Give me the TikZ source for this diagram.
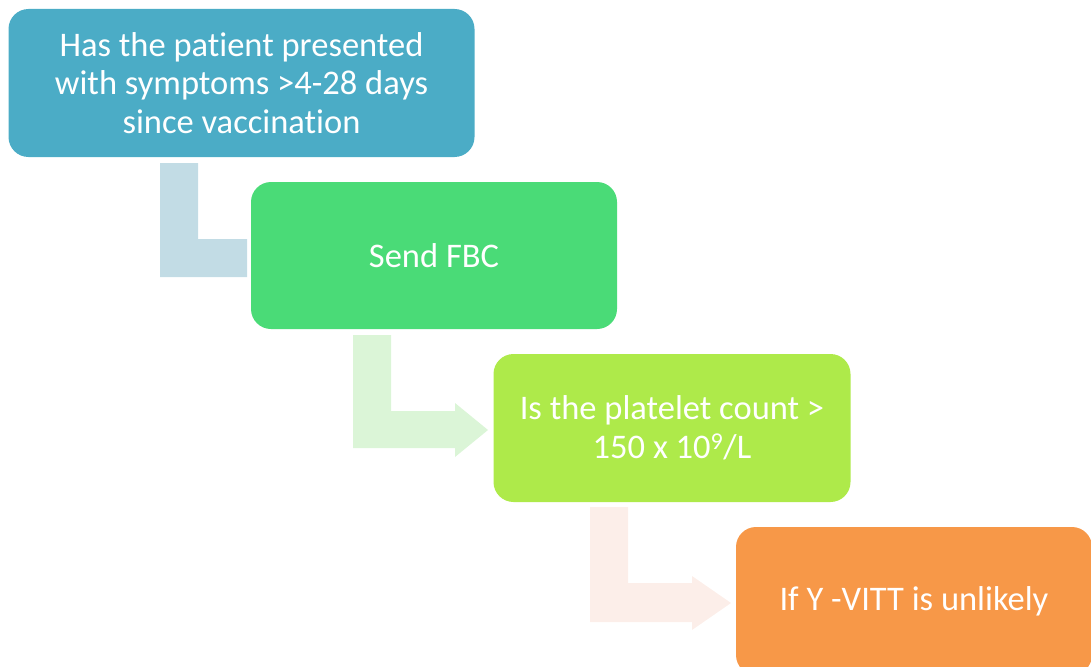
\documentclass[tikz,border=0pt]{standalone}
\usepackage{fontspec}
\setmainfont{Carlito}[Ligatures={NoCommon}]
\usetikzlibrary{backgrounds}
\definecolor{cAqua}{HTML}{4BACC6}
\definecolor{cGreen}{HTML}{4ADB77}
\definecolor{cLime}{HTML}{AEEA4A}
\definecolor{cOrange}{HTML}{F79848}
\definecolor{aAqua}{HTML}{C2DCE5}
\definecolor{aGreen}{HTML}{DBF5D7}
\definecolor{aOrange}{HTML}{FCEEE9}
\tikzset{
  stepbox/.style={rounded corners=20pt, inner sep=0pt, align=center, text=white,
    font=\fontsize{34.5}{38.5}\selectfont},
}
\begin{document}
\begin{tikzpicture}[x=1pt,y=-1pt]
\useasboundingbox (0,0) rectangle (1091,666);
\node[stepbox, fill=cAqua, minimum width=466pt, minimum height=148pt] (b1) at (241.5,83)
  {Has the patient presented\\with symptoms >4-28 days\\since vaccination};
\node[stepbox, fill=cGreen, minimum width=366pt, minimum height=147pt] (b2) at (434,255.5)
  {Send FBC};
\node[stepbox, fill=cLime, minimum width=357pt, minimum height=148pt] (b3) at (672,428)
  {Is the platelet count >\\150 x 10\textsuperscript{9}/L};
\node[stepbox, fill=cOrange, minimum width=356pt, minimum height=148pt] (b4) at (914,601)
  {If Y -VITT is unlikely};
\begin{pgfonlayer}{background}
\fill[aAqua] (160,163) -- (198,163) -- (198,239) -- (247,239) -- (247,277) -- (160,277) -- cycle;
\fill[aGreen] (353,335) -- (391,335) -- (391,411) -- (455,411) -- (455,403) -- (488,430)
  -- (455,457) -- (455,448) -- (353,448) -- cycle;
\fill[aOrange] (590,507) -- (628,507) -- (628,583) -- (692,583) -- (692,576) -- (731,603)
  -- (692,630) -- (692,622) -- (590,622) -- cycle;
\end{pgfonlayer}
\end{tikzpicture}
\end{document}
